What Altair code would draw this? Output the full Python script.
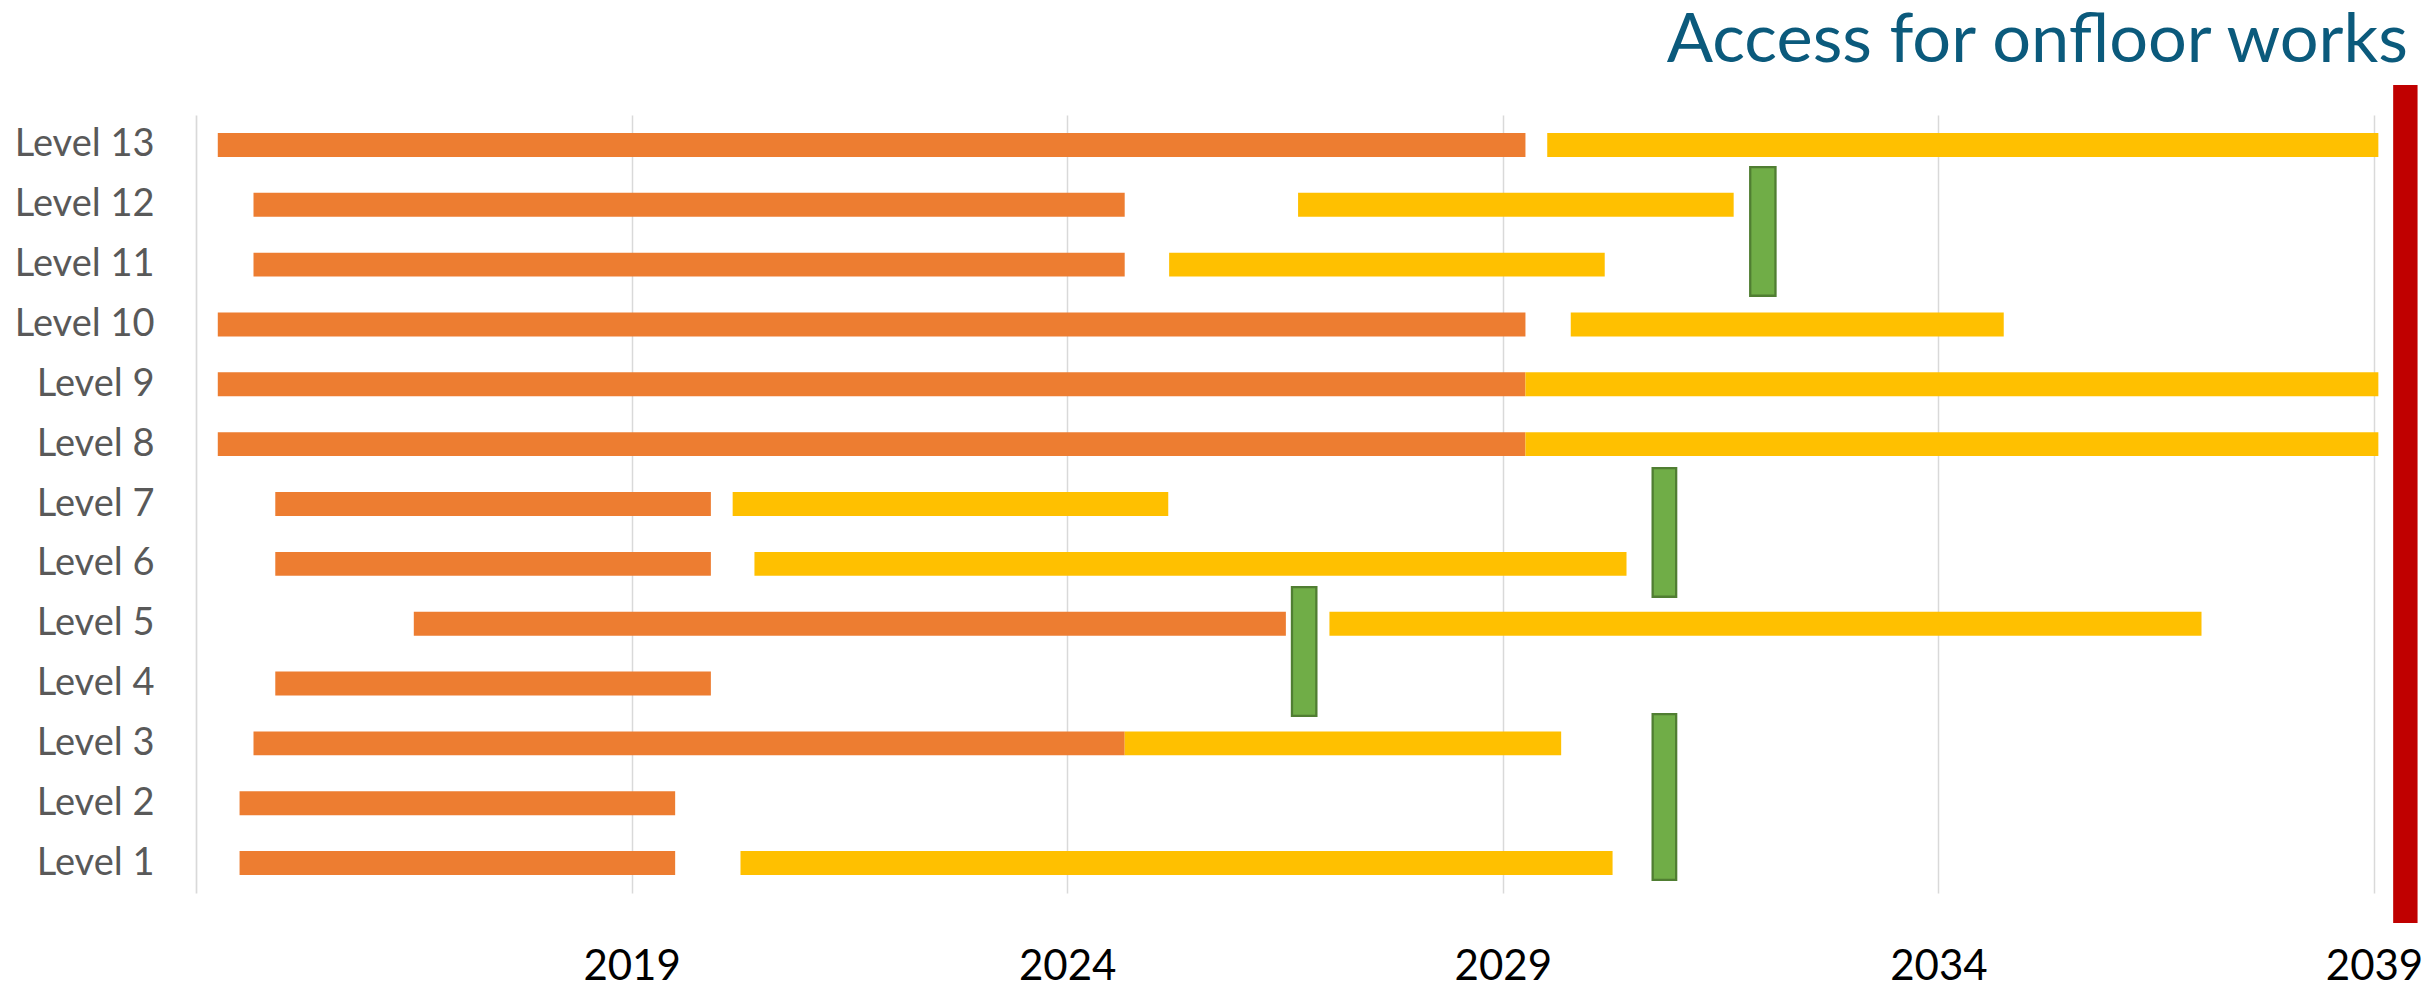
import altair as alt
import pandas as pd

levels = [13, 12, 11, 10, 9, 8, 7, 6, 5, 4, 3, 2, 1]
orange_start = [2014.25, 2014.66, 2014.66, 2014.25, 2014.25, 2014.25, 2014.91, 2014.91, 2016.50, 2014.91, 2014.66, 2014.50, 2014.50]
orange_end = [2029.26, 2024.66, 2024.66, 2029.26, 2029.26, 2029.26, 2019.91, 2019.91, 2026.51, 2019.91, 2024.66, 2019.50, 2019.50]
yellow_start = [2029.51, 2026.65, 2025.17, 2029.78, 2029.26, 2029.26, 2020.16, 2020.41, 2027.01, None, 2024.66, None, 2020.25]
yellow_end = [2039.05, 2031.65, 2030.17, 2034.75, 2039.05, 2039.05, 2025.16, 2030.42, 2037.02, None, 2029.67, None, 2030.26]

green_x0 = [2031.84, 2030.72, 2026.58, 2030.72]
green_x1 = [2032.13, 2030.99, 2026.86, 2030.99]
green_y0 = [10.48, 5.45, 3.46, 0.72]
green_y1 = [12.63, 7.60, 5.61, 3.49]

red_x0 = [2039.22]
red_x1 = [2039.50]
red_y0 = [0.0]
red_y1 = [14.0]

year_ticks = [2019, 2024, 2029, 2034, 2039]
title_text = ["Access for onfloor works"]

orange_df = pd.DataFrame({"level": levels, "start": orange_start, "end": orange_end})
yellow_df = pd.DataFrame({"level": levels, "start": yellow_start, "end": yellow_end}).dropna()
green_df = pd.DataFrame({"x0": green_x0, "x1": green_x1, "y0": green_y0, "y1": green_y1})
red_df = pd.DataFrame({"x0": red_x0, "x1": red_x1, "y0": red_y0, "y1": red_y1})
title_df = pd.DataFrame({"t": title_text})

FONT = "Lato"
xscale = alt.Scale(domain=[2014, 2039], nice=False, zero=False)
yscale = alt.Scale(domain=[0.5, 13.5], nice=False, zero=False)

xaxis = alt.Axis(values=year_ticks, format="d", grid=True, gridColor="#D9D9D9", gridWidth=1.5,
                 domain=False, ticks=False, tickSize=0, labelFont=FONT, labelFontSize=42,
                 labelColor="#000000", labelPadding=53, labelFlush=False, labelOverlap=False)
yaxis = alt.Axis(values=levels, labelExpr="'Level ' + datum.value", grid=False, domain=True,
                 domainColor="#D9D9D9", domainWidth=1.7, ticks=False, tickSize=0,
                 labelFont=FONT, labelFontSize=38, labelColor="#595959", labelPadding=42)

orange = alt.Chart(orange_df).transform_calculate(
    y0="datum.level - 0.2", y1="datum.level + 0.2"
).mark_rect(color="#ED7D31").encode(
    x=alt.X("start:Q", scale=xscale, axis=xaxis, title=None),
    x2="end:Q",
    y=alt.Y("y0:Q", scale=yscale, axis=yaxis, title=None),
    y2="y1:Q",
)

yellow = alt.Chart(yellow_df).transform_calculate(
    y0="datum.level - 0.2", y1="datum.level + 0.2"
).mark_rect(color="#FFC000").encode(
    x=alt.X("start:Q", scale=xscale),
    x2="end:Q",
    y=alt.Y("y0:Q", scale=yscale),
    y2="y1:Q",
)

green = alt.Chart(green_df).mark_rect(color="#70AD47", stroke="#507E32", strokeWidth=2.3).encode(
    x=alt.X("x0:Q", scale=xscale),
    x2="x1:Q",
    y=alt.Y("y0:Q", scale=yscale),
    y2="y1:Q",
)

red = alt.Chart(red_df).mark_rect(color="#C00000").encode(
    x=alt.X("x0:Q", scale=xscale),
    x2="x1:Q",
    y=alt.Y("y0:Q", scale=yscale),
    y2="y1:Q",
)

title = alt.Chart(title_df).mark_text(
    align="right", baseline="alphabetic", font=FONT, fontSize=68.5, color="#0B5A7C"
).encode(text="t:N", x=alt.value(2212), y=alt.value(-53))

chart = alt.layer(orange, yellow, green, red, title).properties(
    width=2178,
    height=778,
    autosize=alt.AutoSizeParams(type="none"),
    padding={"left": 188, "top": 107, "right": 54, "bottom": 92},
).configure_view(stroke=None)

chart.save("out.html", embed_options={"renderer": "svg", "actions": False})
